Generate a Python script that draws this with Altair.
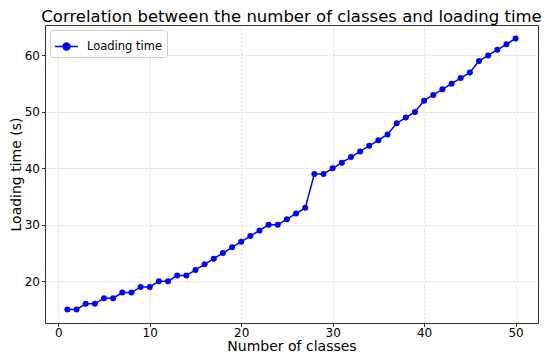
import altair as alt
import pandas as pd

classes = list(range(1, 51))
loading_time = [15, 15, 16, 16, 17, 17, 18, 18, 19, 19,
                20, 20, 21, 21, 22, 23, 24, 25, 26, 27,
                28, 29, 30, 30, 31, 32, 33, 39, 39, 40,
                41, 42, 43, 44, 45, 46, 48, 49, 50, 52,
                53, 54, 55, 56, 57, 59, 60, 61, 62, 63]
series = ["Loading time"] * len(classes)

df = pd.DataFrame({"classes": classes, "time": loading_time, "series": series})

font = "DejaVu Sans"
sym = "M-1,0H1M-0.3,0A0.3,0.3 0 1,1 0.3,0A0.3,0.3 0 1,1 -0.3,0Z"

chart = alt.Chart(df).mark_line(
    point=alt.OverlayMarkDef(filled=True, size=36, color="#0000ff"),
    color="#0000ff", strokeWidth=1.5
).encode(
    x=alt.X("classes:Q", title="Number of classes",
            scale=alt.Scale(domain=[-1.45, 52.45], nice=False, zero=False),
            axis=alt.Axis(values=[0, 10, 20, 30, 40, 50], format="d",
                          labelPadding=0.5, titlePadding=1.5)),
    y=alt.Y("time:Q", title="Loading time (s)",
            scale=alt.Scale(domain=[12.6, 65.4], nice=False, zero=False),
            axis=alt.Axis(values=[20, 30, 40, 50, 60], format="d",
                          labelPadding=2, titlePadding=1)),
    color=alt.Color("series:N", title=None,
                    scale=alt.Scale(range=["#0000ff"]),
                    legend=alt.Legend(orient="top-left", symbolType=sym,
                                      symbolSize=529, symbolStrokeWidth=1.5,
                                      symbolFillColor="#0000ff",
                                      labelFontSize=11.5, labelFont=font,
                                      labelColor="#000", labelOffset=8,
                                      strokeColor="#cccccc", fillColor="white",
                                      padding=4, cornerRadius=3,
                                      offset=5)),
).properties(
    width=493, height=298,
    title=alt.TitleParams("Correlation between the number of classes and loading time",
                          font=font, fontSize=16.5, fontWeight="normal",
                          color="#000", offset=0),
    autosize="none",
    padding={"left": 37, "top": 17, "right": 4, "bottom": 32},
).configure_view(
    stroke="#333333", strokeWidth=1
).configure_axis(
    domain=False, grid=True, gridColor="#b0b0b0", gridDash=[2, 2],
    gridWidth=0.7, gridOpacity=0.7,
    tickColor="#333", tickSize=3.5, labelFont=font, labelFontSize=12,
    labelColor="#000", titleFont=font, titleFontSize=14,
    titleFontWeight="normal", titleColor="#000"
)

chart.save("out.html", embed_options={"renderer": "svg", "actions": False})
